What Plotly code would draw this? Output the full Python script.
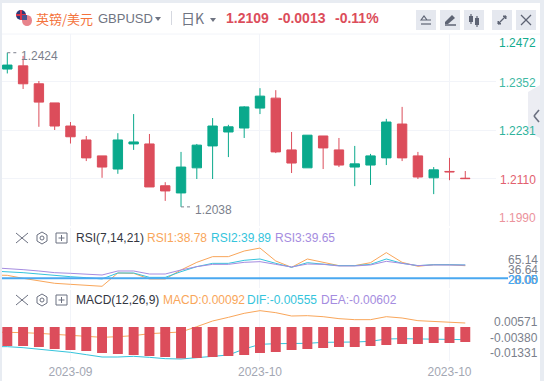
import plotly.graph_objects as go

W, H = 544, 381

# ---------- data ----------
candle_x = list(range(30))
opens = [1.2384, 1.2392, 1.2347, 1.2299, 1.2241, 1.2206, 1.2166, 1.2133, 1.2196, 1.2196,
         1.2091, 1.2073, 1.2136, 1.2191, 1.2226, 1.2236, 1.2286, 1.2311, 1.2181, 1.2136,
         1.2216, 1.2181, 1.2138, 1.2143, 1.2161, 1.2246, 1.2166, 1.2111, 1.2127, 1.2110]
closes = [1.2394, 1.2347, 1.2301, 1.2241, 1.2214, 1.2161, 1.2138, 1.2206, 1.2201, 1.2088,
          1.2078, 1.2138, 1.2193, 1.2241, 1.2239, 1.2289, 1.2316, 1.2176, 1.2148, 1.2218,
          1.2186, 1.2143, 1.2146, 1.2166, 1.2251, 1.2161, 1.2113, 1.2131, 1.2126, 1.2109]
highs = [1.2425, 1.2417, 1.2354, 1.2299, 1.2251, 1.2216, 1.2166, 1.2223, 1.2271, 1.2221,
         1.2100, 1.2176, 1.2196, 1.2261, 1.2244, 1.2291, 1.2336, 1.2331, 1.2226, 1.2218,
         1.2216, 1.2211, 1.2191, 1.2171, 1.2259, 1.2289, 1.2176, 1.2138, 1.2161, 1.2128]
lows = [1.2373, 1.2334, 1.2239, 1.2231, 1.2197, 1.2153, 1.2111, 1.2121, 1.2181, 1.2088,
        1.2053, 1.2038, 1.2108, 1.2108, 1.2163, 1.2211, 1.2271, 1.2173, 1.2123, 1.2136,
        1.2133, 1.2138, 1.2090, 1.2093, 1.2143, 1.2153, 1.2108, 1.2070, 1.2105, 1.2108]

ind_x = list(range(-1, 30))
rsi1 = [24.9, 24.4, 19.95, 15.9, 12.5, 11.0, 9.5, 8.05, 27.9, 27.4, 19.0, 19.0, 32.4, 43.8, 52.3, 52.3,
        60.7, 65.14, 45.8, 36.4, 48.8, 43.8, 38.9, 38.9, 43.3, 58.3, 43.8, 37.9, 40.3, 40.3, 38.78]
rsi2 = [30.9, 29.9, 28.4, 26.4, 23.9, 22.4, 20.9, 19.0, 27.9, 27.9, 21.4, 21.4, 29.9, 37.4, 42.3, 42.3,
        46.8, 48.8, 42.3, 36.4, 43.3, 40.8, 38.9, 38.9, 40.8, 48.8, 42.3, 38.9, 40.3, 40.3, 39.89]
rsi3 = [35.9, 34.9, 32.9, 30.9, 28.4, 27.4, 26.4, 24.9, 30.9, 30.9, 26.4, 26.4, 32.4, 37.4, 40.8, 40.8,
        43.8, 44.8, 40.8, 36.9, 41.3, 40.8, 38.4, 38.4, 39.9, 45.3, 42.3, 38.9, 39.9, 39.9, 39.65]
rsi_floor = 20.0

macd_bar = [-.00731, -.00731, -.00769, -.00846, -.00885, -.00923, -.01, -.01038, -.01077, -.01115,
            -.01154, -.01205, -.01192, -.01154, -.01115, -.01077, -.01, -.00962, -.00885, -.00846,
            -.00808, -.00769, -.00769, -.00731, -.00692, -.00654, -.00654, -.00615, -.00615, -.00577]
macd_up = [-.00192, -.00192, -.00218, -.00244, -.00282, -.00321, -.00359, -.00397, -.00372, -.00333, -.00256,
           -.00231, -.00192, .00013, .00231, .00372, .00526, .00628, .00551, .00423, .00436, .00397,
           .00321, .00282, .00282, .00397, .00346, .00244, .00205, .00192, .00154]
macd_low = [-.00756, -.00756, -.00795, -.00846, -.0091, -.00974, -.01064, -.01154, -.01154, -.01128, -.01167,
            -.01218, -.01231, -.01179, -.01115, -.01077, -.00846, -.00667, -.00641, -.00641, -.00628, -.0059,
            -.0059, -.00577, -.00551, -.00462, -.00449, -.00462, -.00474, -.00474, -.00487]

date_ticks = [4, 16, 28]
date_labels = ["2023-09", "2023-10", "2023-10"]
price_ticks = [1.2472, 1.2352, 1.2231, 1.2110, 1.1990]
price_labels = ["1.2472", "1.2352", "1.2231", "1.2110", "1.1990"]
price_colors = ["#12ab8f", "#3fb9a4", "#2fb39c", "#e2606e", "#ec939c"]
rsi_labels = ["65.14", "36.64", "8.05", "28.00", "20.00"]
macd_labels = ["0.00571", "-0.00380", "-0.01331"]

# ---------- colours ----------
GREEN, RED = "#0aa98c", "#dc4d5b"
ORANGE, CYAN, PURPLE, BLUE = "#f9a65a", "#35c4dc", "#a58ce0", "#4aa8f0"
GRID = "#f2f4f9"
FRAME = "#e8ecf2"
SANS = "Liberation Sans, Arial, sans-serif"
CJK = "Noto Sans CJK SC, sans-serif"


def px(x):
    return x / W


def py(y):
    return 1 - y / H


XR = [-0.336, 30.945]
fig = go.Figure()

fig.add_trace(go.Candlestick(
    x=candle_x, open=opens, high=highs, low=lows, close=closes, xaxis="x", yaxis="y",
    whiskerwidth=0, hoverinfo="skip",
    increasing=dict(line=dict(color=GREEN, width=1), fillcolor=GREEN),
    decreasing=dict(line=dict(color=RED, width=1), fillcolor=RED),
))

for vals, col in ((rsi1, ORANGE), (rsi2, CYAN), (rsi3, PURPLE)):
    fig.add_trace(go.Scatter(x=ind_x, y=vals, mode="lines", xaxis="x2", yaxis="y2",
                             line=dict(color=col, width=1), hoverinfo="skip"))

for vals, col in ((macd_up, ORANGE), (macd_low, CYAN)):
    fig.add_trace(go.Scatter(x=ind_x, y=vals, mode="lines", xaxis="x3", yaxis="y3",
                             line=dict(color=col, width=1), hoverinfo="skip"))

# bars sit above the lines, so they use an overlaying axis
fig.add_trace(go.Bar(x=candle_x, y=macd_bar, width=0.63, marker=dict(color=RED, line=dict(width=0)),
                     xaxis="x3", yaxis="y4", hoverinfo="skip"))

common_x = dict(range=XR, tickmode="array", tickvals=date_ticks, showgrid=True, gridcolor=GRID,
                gridwidth=1, zeroline=False, showline=False, ticks="",
                domain=[px(2), px(496)], rangeslider=dict(visible=False))
MACD_RANGE = [-34 / 2600, 37 / 2600]
fig.update_layout(
    width=W, height=H, margin=dict(l=0, r=0, t=0, b=0), autosize=False,
    paper_bgcolor="white", plot_bgcolor="white", showlegend=False, bargap=0.3, boxgap=0.15,
    xaxis=dict(**common_x, anchor="y", showticklabels=False),
    xaxis2=dict(**common_x, anchor="y2", showticklabels=False),
    xaxis3=dict(**common_x, anchor="y3", showticklabels=True, ticktext=date_labels,
                tickfont=dict(family=SANS, size=12, color="#a3a7b3"), ticklabelstandoff=2),
    yaxis=dict(domain=[py(226), py(34)], range=[1.1990, 1.2472], tickmode="array", tickvals=price_ticks,
               showticklabels=False, gridcolor=GRID, zeroline=False, ticks="", anchor="x"),
    yaxis2=dict(domain=[py(288), py(228)], range=[5.5, 95.07], tickmode="array", tickvals=[5.5, 95.07],
                showticklabels=False, gridcolor=GRID, zeroline=False, ticks="", anchor="x2"),
    yaxis3=dict(domain=[py(361), py(290)], range=MACD_RANGE, tickmode="array", tickvals=MACD_RANGE,
                showticklabels=False, gridcolor=GRID, zeroline=False, ticks="", anchor="x3"),
    yaxis4=dict(domain=[py(361), py(290)], range=MACD_RANGE, overlaying="y3", showticklabels=False,
                showgrid=False, zeroline=False, ticks="", anchor="x3"),
)

shapes, ann = [], []


def rect(x0, y0, x1, y1, fill, line=None, lw=0, layer="below"):
    shapes.append(dict(type="rect", xref="paper", yref="paper", x0=px(x0), x1=px(x1), y0=py(y0), y1=py(y1),
                       fillcolor=fill, line=dict(color=line or fill, width=lw), layer=layer))


def seg(x0, y0, x1, y1, col, lw=1.2, layer="above"):
    shapes.append(dict(type="line", xref="paper", yref="paper", x0=px(x0), x1=px(x1), y0=py(y0), y1=py(y1),
                       line=dict(color=col, width=lw), layer=layer))


def circle(x0, y0, x1, y1, fill, line=None, lw=0):
    shapes.append(dict(type="circle", xref="paper", yref="paper", x0=px(x0), x1=px(x1), y0=py(y0), y1=py(y1),
                       fillcolor=fill, line=dict(color=line or fill, width=lw), layer="above"))


def path(d, fill, line=None, lw=0, layer="above"):
    pts = " ".join(f"{c}{px(x)},{py(y)}" for c, x, y in d) + " Z"
    shapes.append(dict(type="path", xref="paper", yref="paper", path=pts, fillcolor=fill,
                       line=dict(color=line or fill, width=lw), layer=layer))


def text(x, y, s, col, size=12, anchor="left", family=SANS, bold=False):
    ann.append(dict(xref="paper", yref="paper", x=px(x), y=py(y), text=f"<b>{s}</b>" if bold else s,
                    showarrow=False, xanchor=anchor, yanchor="middle", xshift=0,
                    font=dict(family=family, size=size, color=col), borderpad=0, borderwidth=0))


# page frame
rect(0, 0, W, 3, FRAME)
rect(0, 0, 2, H, FRAME)
rect(540, 0, W, H, FRAME)
seg(2, 34, 540, 34, GRID, 1, "below")

# flag badges
circle(16, 10, 26, 20, "#2d3a78")
seg(21, 10, 21, 20, "#d8344a", 2)
seg(16, 15, 26, 15, "#d8344a", 2)
circle(22, 15, 32, 26, "#e8848c")
rect(22, 15, 27, 20, "#4a5590", layer="above")

# header
text(36, 18, "英镑/美元", "#f4733c", 13, family=CJK)
text(98, 19, "GBPUSD", "#6f7482", 13)
path([("M", 155, 17), ("L", 161, 17), ("L", 158, 21)], "#6f7482")
seg(171.5, 11, 171.5, 25, "#d5d8e0", 1)
text(181, 18, "日K", "#6f7482", 14, family=CJK)
path([("M", 210, 18), ("L", 216, 18), ("L", 213, 22)], "#6f7482")
text(226, 18, "1.2109", RED, 14, bold=True)
text(278, 18, "-0.0013", RED, 14, bold=True)
text(335, 18, "-0.11%", RED, 14, bold=True)

# toolbar buttons
for x0 in (416, 440, 464, 492, 516):
    shapes.append(dict(type="rect", xref="paper", yref="paper", x0=px(x0), x1=px(x0 + 20), y0=py(10), y1=py(30),
                       fillcolor="#e5e8ef", line=dict(color="#e5e8ef", width=0), layer="below"))
ICON = "#5e6474"
seg(421, 24, 431, 24, ICON)
path([("M", 421, 20), ("L", 424, 16), ("L", 427, 20), ("L", 431, 20)], "rgba(0,0,0,0)", ICON, 1.2)
path([("M", 445, 22), ("L", 452, 15), ("L", 455, 18), ("L", 448, 24), ("L", 445, 24)], ICON)
seg(445, 25, 456, 25, ICON, 1.5)
rect(469, 16, 473, 22, ICON, layer="above")
seg(471, 14, 471, 24, ICON)
rect(475, 18, 479, 25, ICON, layer="above")
seg(477, 16, 477, 27, ICON)
seg(498, 24, 506, 16, ICON, 1.2)
path([("M", 503, 16), ("L", 506, 16), ("L", 506, 19)], ICON, ICON, 1)
path([("M", 498, 21), ("L", 498, 24), ("L", 501, 24)], ICON, ICON, 1)
seg(521, 15, 531, 25, ICON, 1.2)
seg(531, 15, 521, 25, ICON, 1.2)

# side handle
path([("M", 540, 85), ("L", 528, 92), ("L", 528, 132), ("L", 540, 138)], "#ecedf3")
seg(539, 110, 534, 116, "#6b7080", 1.6)
seg(534, 116, 539, 122, "#6b7080", 1.6)

# price labels and extremes
for t, lab, col, dy in zip(price_ticks, price_labels, price_colors, (9, 1, 1, 2, -8)):
    ann.append(dict(xref="paper", yref="y", x=px(538), y=t, text=lab, showarrow=False, xanchor="right",
                    yanchor="middle", yshift=-dy, font=dict(family=SANS, size=12, color=col)))
ann.append(dict(xref="x", yref="y", x=0, y=max(highs), text="1.2424", showarrow=False, xanchor="left",
                xshift=12, yshift=-3, font=dict(family=SANS, size=12, color="#7b7f8c")))
ann.append(dict(xref="x", yref="y", x=11, y=min(lows), text="1.2038", showarrow=False, xanchor="left",
                xshift=12, yshift=-3, font=dict(family=SANS, size=12, color="#7b7f8c")))
shapes.append(dict(type="line", xref="x", yref="y", x0=0, x1=0.65, y0=max(highs), y1=max(highs),
                   line=dict(color="#7b7f8c", width=1, dash="dot"), layer="above"))
shapes.append(dict(type="line", xref="x", yref="y", x0=11, x1=11.7, y0=min(lows), y1=min(lows),
                   line=dict(color="#7b7f8c", width=1, dash="dot"), layer="above"))

# RSI row
ROW = "#33363f"
for yc, name, items in (
    (238, "RSI(7,14,21)", [(147, "RSI1:38.78", ORANGE), (211, "RSI2:39.89", CYAN), (275, "RSI3:39.65", PURPLE)]),
    (300, "MACD(12,26,9)", [(163, "MACD:0.00092", ORANGE), (247, "DIF:-0.00555", CYAN), (321, "DEA:-0.00602", PURPLE)]),
):
    seg(16, yc - 5, 28, yc + 5, "#6b7080", 1)
    seg(28, yc - 5, 16, yc + 5, "#6b7080", 1)
    path([("M", 42, yc - 6), ("L", 47, yc - 3), ("L", 47, yc + 3), ("L", 42, yc + 6), ("L", 37, yc + 3), ("L", 37, yc - 3)],
         "rgba(0,0,0,0)", "#6b7080", 1)
    circle(40, yc - 2, 44, yc + 2, "rgba(0,0,0,0)", "#6b7080", 1)
    rect(56, yc - 5, 67, yc + 5, "rgba(0,0,0,0)", "#6b7080", 1, layer="above")
    seg(58.5, yc, 64.5, yc, "#6b7080", 1)
    seg(61.5, yc - 3, 61.5, yc + 3, "#6b7080", 1)
    text(76, yc, name, ROW, 12)
    for x0, s, col in items:
        text(x0, yc, s, col, 12)

# floor line of the RSI panel
shapes.append(dict(type="line", xref="paper", yref="y2", x0=px(2), x1=px(508), y0=rsi_floor, y1=rsi_floor,
                   line=dict(color=BLUE, width=2), layer="above"))
for s, yc, col in zip(rsi_labels, (260, 270, 280, 280, 280), ("#7b7f8c", "#7b7f8c", "#7b7f8c", BLUE, BLUE)):
    text(538, yc, s, col, 12, anchor="right")
for s, yc in zip(macd_labels, (322, 338, 353)):
    text(538, yc, s, "#7b7f8c", 12, anchor="right")

fig.update_layout(shapes=shapes, annotations=ann)
fig.write_html("out.html", config={"displayModeBar": False},
               post_script="document.body.style.margin='0';document.body.style.overflow='hidden';")
